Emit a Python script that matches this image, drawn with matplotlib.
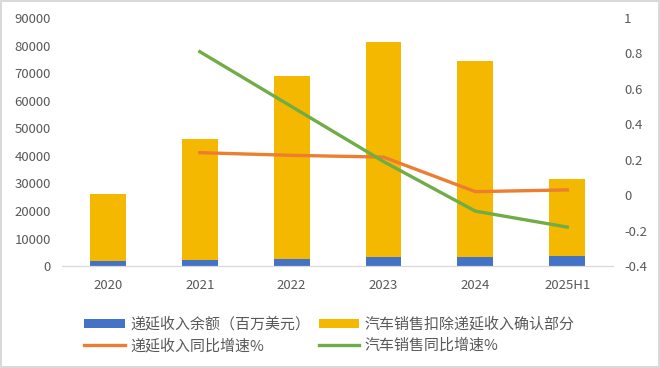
import matplotlib.pyplot as plt
import numpy as np

plt.rcParams['font.family'] = ['Noto Sans CJK SC', 'DejaVu Sans']

# 数据
years = ["2020", "2021", "2022", "2023", "2024", "2025H1"]
deferred_balance = [1800, 2200, 2600, 3300, 3200, 3600]
auto_sales_ex = [24200, 43800, 66500, 77900, 71200, 28100]
deferred_yoy = [np.nan, 0.24, 0.225, 0.215, 0.02, 0.03]
auto_yoy = [np.nan, 0.81, 0.50, 0.19, -0.09, -0.18]

c_blue = "#4472C4"
c_yellow = "#F5B800"
c_orange = "#ED7D31"
c_green = "#70AD47"
c_text = "#595959"

fig = plt.figure(figsize=(6.6, 3.68), dpi=100)
fig.patch.set_edgecolor("#D9D9D9")
fig.patch.set_linewidth(1.5)
ax = fig.add_axes([0.094, 0.277, 0.835, 0.674])
x = np.arange(len(years))
w = 0.39

b1 = ax.bar(x, deferred_balance, w, color=c_blue, label="递延收入余额（百万美元）")
b2 = ax.bar(x, auto_sales_ex, w, bottom=deferred_balance, color=c_yellow,
            label="汽车销售扣除递延收入确认部分")
ax.set_ylim(0, 90000)
ax.set_yticks(np.arange(0, 90001, 10000))
ax.set_xlim(-0.5, len(years) - 0.5)
ax.set_xticks(x)
ax.set_xticklabels(years)

ax2 = ax.twinx()
l1, = ax2.plot(x, deferred_yoy, color=c_orange, lw=2.4, label="递延收入同比增速%")
l2, = ax2.plot(x, auto_yoy, color=c_green, lw=2.4, label="汽车销售同比增速%")
ax2.set_ylim(-0.4, 1.0)
ax2.set_yticks([-0.4, -0.2, 0, 0.2, 0.4, 0.6, 0.8, 1])
ax2.set_yticklabels(["-0.4", "-0.2", "0", "0.2", "0.4", "0.6", "0.8", "1"])

for a in (ax, ax2):
    for s in ("top", "left", "right"):
        a.spines[s].set_visible(False)
    a.spines["bottom"].set_color("#D9D9D9")
    a.tick_params(length=0, labelsize=9.5, labelcolor=c_text)
ax.tick_params(axis="x", pad=9)
ax.tick_params(axis="y", pad=8)
ax2.tick_params(axis="y", pad=8)

fig.legend([b1, l1, b2, l2],
           ["递延收入余额（百万美元）", "递延收入同比增速%",
            "汽车销售扣除递延收入确认部分", "汽车销售同比增速%"],
           ncol=2, loc="lower left", bbox_to_anchor=(0.107, 0.004),
           frameon=False, fontsize=10.8, labelcolor=c_text,
           handlelength=2.7, handleheight=0.6, handletextpad=0.35,
           columnspacing=0.6, labelspacing=0.45)

fig.savefig("out.png", dpi=100)
